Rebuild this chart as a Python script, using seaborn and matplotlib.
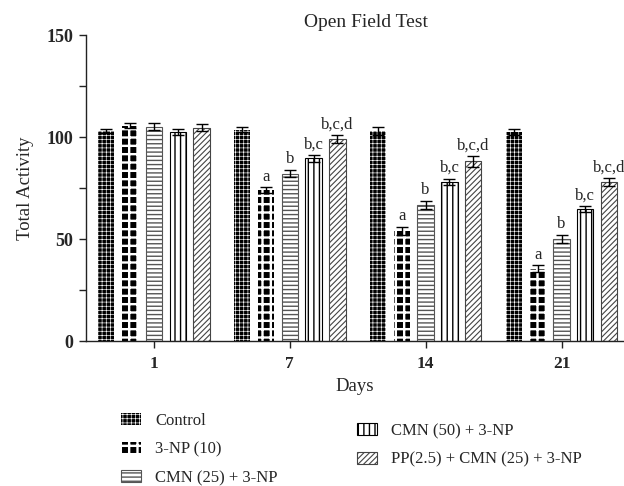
import matplotlib

matplotlib.use("Agg")
import matplotlib.pyplot as plt
import pandas as pd
import seaborn as sns

days = ["1", "7", "14", "21"]
groups = [
    "Control",
    "3-NP (10)",
    "CMN (25) + 3-NP",
    "CMN (50) + 3-NP",
    "PP(2.5) + CMN (25) + 3-NP",
]
control = [103.0, 103.5, 103.0, 102.5]
np10 = [105.5, 74.0, 54.0, 35.5]
cmn25 = [105.0, 82.0, 66.5, 50.0]
cmn50 = [102.5, 89.5, 78.0, 64.5]
pp_cmn25 = [104.5, 99.0, 88.0, 78.0]

control_err = [1.0, 1.2, 2.0, 1.3]
np10_err = [1.2, 1.3, 2.0, 1.6]
cmn25_err = [1.8, 1.8, 2.0, 2.0]
cmn50_err = [1.3, 1.7, 1.6, 1.5]
pp_cmn25_err = [1.8, 2.0, 2.5, 1.8]

sig_labels = {
    "3-NP (10)": ["", "a", "a", "a"],
    "CMN (25) + 3-NP": ["", "b", "b", "b"],
    "CMN (50) + 3-NP": ["", "b,c", "b,c", "b,c"],
    "PP(2.5) + CMN (25) + 3-NP": ["", "b,c,d", "b,c,d", "b,c,d"],
}

values = [control, np10, cmn25, cmn50, pp_cmn25]
errors = [control_err, np10_err, cmn25_err, cmn50_err, pp_cmn25_err]

df = pd.DataFrame(
    [
        {"day": d, "group": g, "activity": v, "sem": e}
        for g, vals, errs in zip(groups, values, errors)
        for d, v, e in zip(days, vals, errs)
    ]
)

# face, hatch colour, hatch, hatch linewidth
styles = [
    ("black", "white", "++++", 0.45),
    ("black", "white", "++", 1.7),
    ("white", "#555555", "----", 1.0),
    ("white", "black", "|||", 1.0),
    ("white", "#444444", "//////", 0.8),
]


def style_patch(patch, face, hcol, hatch, hlw):
    patch.set_facecolor(face)
    patch.set_hatch(hatch)
    patch.set_edgecolor(hcol)
    patch.set_linewidth(0 if face == "black" else 0.8)
    if hasattr(patch, "set_hatch_linewidth"):
        patch.set_hatch_linewidth(hlw)


sns.set_theme(style="white")
plt.rcParams["font.family"] = ["Liberation Serif", "DejaVu Serif"]
plt.rcParams["hatch.linewidth"] = 1.0

fig = plt.figure(figsize=(6.24, 4.86), dpi=100)
ax = fig.add_axes([86 / 624, 145 / 486, 538 / 624, 306 / 486])

sns.barplot(
    data=df,
    x="day",
    y="activity",
    hue="group",
    order=days,
    hue_order=groups,
    palette=["white"] * 5,
    width=0.877,
    gap=0.315,
    errorbar=None,
    legend=False,
    ax=ax,
)

for container, style, g, errs in zip(ax.containers, styles, groups, errors):
    for i, patch in enumerate(container.patches):
        style_patch(patch, *style)
        xc = patch.get_x() + patch.get_width() / 2
        top = patch.get_height()
        ax.errorbar(xc, top, yerr=errs[i], color="black", elinewidth=1.0,
                    capsize=4.5, capthick=1.0, zorder=5)
        if g in sig_labels and sig_labels[g][i]:
            ax.annotate(sig_labels[g][i], (xc, top + errs[i]), xytext=(0, 2),
                        textcoords="offset points", ha="center", va="bottom",
                        fontsize=12)

ax.set_xlim(-0.5, 3.46)
ax.set_ylim(0, 150)
ax.set_yticks([0, 50, 100, 150])
ax.set_yticks([25, 75, 125], minor=True)
sns.despine(ax=ax)
for side in ["left", "bottom"]:
    ax.spines[side].set_color("#222222")
    ax.spines[side].set_linewidth(1.0)
ax.tick_params(axis="y", which="major", direction="out", length=5, width=1,
               color="#222222", left=True, pad=4, labelsize=13)
ax.tick_params(axis="y", which="minor", direction="out", length=5, width=1,
               color="#222222", left=True)
ax.tick_params(axis="x", direction="out", length=5, width=1, color="#222222",
               bottom=True, pad=6, labelsize=12.5)
for lab in ax.get_xticklabels() + ax.get_yticklabels():
    lab.set_fontweight("bold")

ax.set_title("Open Field Test", fontsize=14, x=0.52, pad=6)
ax.set_ylabel("Total Activity", fontsize=13.5, labelpad=9)
ax.set_xlabel("Days", fontsize=13.5, labelpad=4)

handles = list(ax.containers)
leg_kw = dict(frameon=False, fontsize=12, handlelength=1.2, handleheight=0.7,
              handletextpad=0.85, labelspacing=0.75, borderpad=0, borderaxespad=0,
              loc="upper left")
leg1 = fig.legend(handles[:3], groups[:3], bbox_to_anchor=(121 / 624, 1 - 413 / 486), **leg_kw)
leg2 = fig.legend(handles[3:], groups[3:], bbox_to_anchor=(357 / 624, 1 - 423 / 486), **leg_kw)
for leg, sty in [(leg1, styles[:3]), (leg2, styles[3:])]:
    for patch, style in zip(leg.get_patches(), sty):
        style_patch(patch, *style)

fig.savefig("out.png", dpi=100)
